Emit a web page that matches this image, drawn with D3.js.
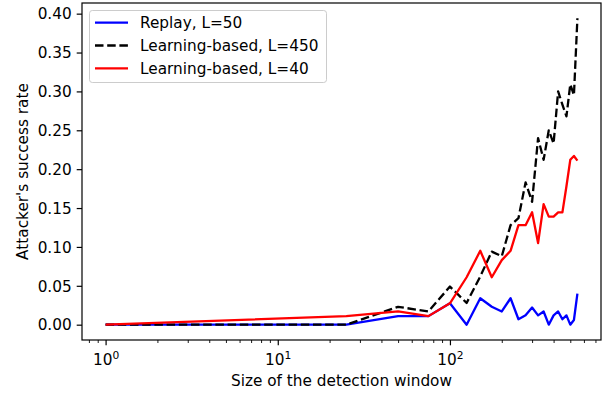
<!DOCTYPE html>
<html>
<head>
<meta charset="utf-8">
<script src="https://cdn.jsdelivr.net/npm/d3@7"></script>
<style>
  body { margin: 0; background: #fff; }
  text { font-family: "DejaVu Sans", sans-serif; fill: #000; }
</style>
</head>
<body>
<div id="chart"></div>
<script>
// window sizes (x) and success rates per attacker
const windowSizes = [1, 25, 50, 75, 100, 125, 150, 175, 200, 225, 250, 275, 300, 325, 350, 375, 400, 425, 450, 475, 500, 525, 550];
const replay = [0, 0, 0.011, 0.011, 0.0275, 0, 0.034, 0.023, 0.017, 0.034, 0.007, 0.012, 0.022, 0.012, 0.017, 0, 0.012, 0.017, 0.007, 0.012, 0, 0.006, 0.040];
const learning450 = [0, 0, 0.023, 0.017, 0.049, 0.028, 0.062, 0.094, 0.088, 0.128, 0.137, 0.183, 0.158, 0.240, 0.212, 0.250, 0.233, 0.300, 0.283, 0.268, 0.309, 0.295, 0.394];
const learning40 = [0, 0.011, 0.017, 0.011, 0.0275, 0.061, 0.095, 0.061, 0.083, 0.095, 0.128, 0.128, 0.1445, 0.105, 0.155, 0.139, 0.139, 0.1445, 0.1445, 0.178, 0.212, 0.217, 0.211];
const yTicks = [0, 0.05, 0.10, 0.15, 0.20, 0.25, 0.30, 0.35, 0.40];
const xTicks = [1, 10, 100];

const series = [
  { name: "Replay, L=50", values: replay, color: "#0000ff", dash: null },
  { name: "Learning-based, L=450", values: learning450, color: "#000000", dash: "8.5,3.7" },
  { name: "Learning-based, L=40", values: learning40, color: "#ff0000", dash: null }
];

const width = 605, height = 395;
const margin = { left: 82, right: 4, top: 3, bottom: 55 };

const svg = d3.select("#chart")
  .append("svg")
  .attr("width", width)
  .attr("height", height);

// matplotlib-like 5% margins (log space for x)
const lx = d3.extent(windowSizes).map(Math.log10);
const padX = (lx[1] - lx[0]) * 0.05;
const x = d3.scaleLog()
  .domain([Math.pow(10, lx[0] - padX), Math.pow(10, lx[1] + padX)])
  .range([margin.left, width - margin.right]);

const yMax = d3.max(series, s => d3.max(s.values));
const y = d3.scaleLinear()
  .domain([-yMax * 0.05, yMax * 1.05])
  .range([height - margin.bottom, margin.top]);

const fs = 15.3;

// y axis
const yAxis = svg.append("g")
  .attr("transform", `translate(${margin.left},0)`)
  .call(d3.axisLeft(y).tickValues(yTicks).tickFormat(d3.format(".2f")).tickSize(5.3).tickPadding(5));
yAxis.select(".domain").remove();
yAxis.selectAll("line").attr("stroke-width", 1.2);
yAxis.selectAll("text").attr("font-size", fs).attr("font-family", "DejaVu Sans").attr("dy", "0.34em");

// x axis, major + minor log ticks
const minorTicks = [];
[0.1, 1, 10, 100].forEach(dec => {
  for (let k = 2; k <= 9; k++) {
    const v = dec * k;
    if (v >= x.domain()[0] && v <= x.domain()[1]) minorTicks.push(v);
  }
});
const xMinor = svg.append("g")
  .attr("transform", `translate(0,${height - margin.bottom})`)
  .call(d3.axisBottom(x).tickValues(minorTicks).tickFormat("").tickSize(3));
xMinor.select(".domain").remove();
xMinor.selectAll("line").attr("stroke-width", 0.9);

const xAxis = svg.append("g")
  .attr("transform", `translate(0,${height - margin.bottom})`)
  .call(d3.axisBottom(x).tickValues(xTicks).tickFormat("").tickSize(5.3));
xAxis.select(".domain").remove();
xAxis.selectAll("line").attr("stroke-width", 1.2);

// tick labels as 10^n
xAxis.selectAll(".tick")
  .append("text")
  .attr("y", 25)
  .attr("text-anchor", "middle")
  .attr("font-size", fs)
  .each(function(d) {
    const t = d3.select(this);
    t.append("tspan").text("10");
    t.append("tspan").attr("font-size", 10.7).attr("dy", -6.5).text(Math.round(Math.log10(d)));
  });

// lines
const line = d3.line()
  .x((d, i) => x(windowSizes[i]))
  .y(d => y(d));

svg.selectAll("path.series")
  .data(series)
  .join("path")
  .attr("class", "series")
  .attr("d", d => line(d.values))
  .attr("fill", "none")
  .attr("stroke", d => d.color)
  .attr("stroke-width", 2.3)
  .attr("stroke-dasharray", d => d.dash)
  .attr("stroke-linejoin", "round");

// frame
svg.append("rect")
  .attr("x", margin.left)
  .attr("y", margin.top)
  .attr("width", width - margin.left - margin.right)
  .attr("height", height - margin.top - margin.bottom)
  .attr("fill", "none")
  .attr("stroke", "#000")
  .attr("stroke-width", 1.2);

// axis labels
svg.append("text")
  .attr("x", (margin.left + width - margin.right) / 2)
  .attr("y", 386)
  .attr("text-anchor", "middle")
  .attr("font-size", fs)
  .text("Size of the detection window");

svg.append("text")
  .attr("transform", `translate(27.5,${(margin.top + height - margin.bottom) / 2}) rotate(-90)`)
  .attr("text-anchor", "middle")
  .attr("font-size", fs)
  .text("Attacker's success rate");

// legend
const legend = svg.append("g").attr("transform", `translate(${margin.left + 7},${margin.top + 7})`);
legend.append("rect")
  .attr("x", 0.5).attr("y", 0.5)
  .attr("width", 237).attr("height", 72)
  .attr("rx", 2.8)
  .attr("fill", "#fff").attr("fill-opacity", 0.8)
  .attr("stroke", "#cccccc").attr("stroke-width", 1);

const rows = legend.selectAll("g.row")
  .data(series)
  .join("g")
  .attr("class", "row")
  .attr("transform", (d, i) => `translate(0,${12.7 + i * 22.8})`);
rows.append("line")
  .attr("x1", 6).attr("x2", 39)
  .attr("stroke", d => d.color)
  .attr("stroke-width", 2.3)
  .attr("stroke-dasharray", d => d.dash);
rows.append("text")
  .attr("x", 51)
  .attr("dy", "0.36em")
  .attr("font-size", fs)
  .text(d => d.name);
</script>
</body>
</html>
